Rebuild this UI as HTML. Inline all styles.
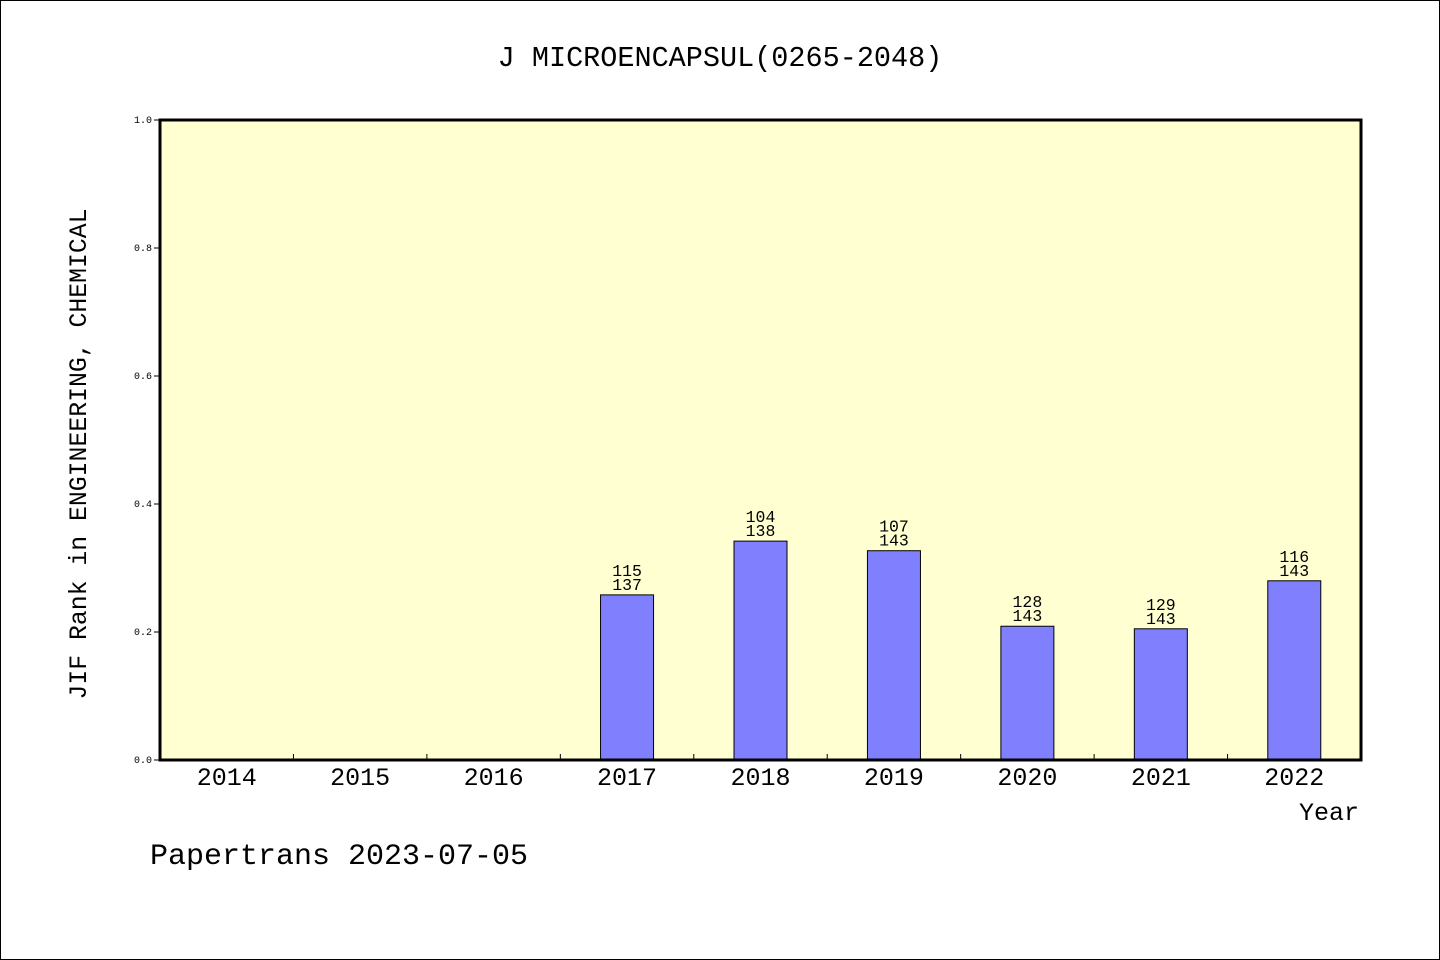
<!DOCTYPE html>
<html><head><meta charset="utf-8"><style>
body{margin:0;background:#fff}
svg{display:block}
text{font-family:"Liberation Mono",monospace;fill:#000}
</style></head><body>
<svg id="c" width="1440" height="960">
<rect x="0.5" y="0.5" width="1439" height="959" fill="#fff" stroke="#000"/>
<text x="720" y="66" font-size="28.5" text-anchor="middle">J MICROENCAPSUL(0265-2048)</text>
<rect x="160" y="120" width="1201" height="640" fill="#ffffd2"/>
<g id="bars"></g>
<g id="ticks"></g>
<rect x="160" y="120" width="1201" height="640" fill="none" stroke="#000" stroke-width="3"/>
<text x="86" y="454" font-size="24.8" text-anchor="middle" transform="rotate(-90 86 454)">JIF Rank in ENGINEERING, CHEMICAL</text>
<text x="1359" y="820" font-size="25" text-anchor="end">Year</text>
<text x="150" y="864" font-size="30">Papertrans 2023-07-05</text>
</svg>
<script>
const years=["2014","2015","2016","2017","2018","2019","2020","2021","2022"];
const values=[null,null,null,0.258,0.342,0.327,0.209,0.205,0.280];
const ranks=[null,null,null,"115","104","107","128","129","116"];
const totals=[null,null,null,"137","138","143","143","143","143"];
const yTicks=[0,0.2,0.4,0.6,0.8,1.0];
const ns="http://www.w3.org/2000/svg";
const X0=160,X1=1361,Y0=760,Y1=120,bw=(X1-X0)/years.length;
const yS=v=>Y0-(v/1)*(Y0-Y1);
const xC=i=>X0+bw*(i+0.5);
function mk(t,a,p){const e=document.createElementNS(ns,t);for(const k in a)e.setAttribute(k,a[k]);p.appendChild(e);return e;}
const bars=document.getElementById('bars'),tk=document.getElementById('ticks');
years.forEach((y,i)=>{
 const t=mk('text',{x:xC(i),y:785,'font-size':25,'text-anchor':'middle'},tk);t.textContent=y;
 
 
 if(i>0){const l=mk('line',{x1:X0+bw*i,x2:X0+bw*i,y1:Y0,y2:Y0-6,stroke:'#000'},tk);
 
 }
 const v=values[i];if(v==null)return;
 const r=mk('rect',{x:xC(i)-26.5,y:yS(v),width:53,height:Y0-yS(v),fill:'#8080ff',stroke:'#000','stroke-width':1},bars);
 
 
 const a=mk('text',{x:xC(i),y:yS(v)-19,'font-size':16.5,'text-anchor':'middle'},bars);a.textContent=ranks[i];
 
 
 const b=mk('text',{x:xC(i),y:yS(v)-5,'font-size':16.5,'text-anchor':'middle'},bars);b.textContent=totals[i];
 
 
});
yTicks.forEach(v=>{
 const l=mk('line',{x1:X0-6,x2:X0,y1:yS(v),y2:yS(v),stroke:'#000'},tk);
 
 
 const t=mk('text',{x:X0-8,y:yS(v)+3,'font-size':10,'text-anchor':'end'},tk);t.textContent=v.toFixed(1);
 
 
});
</script>
</body></html>
